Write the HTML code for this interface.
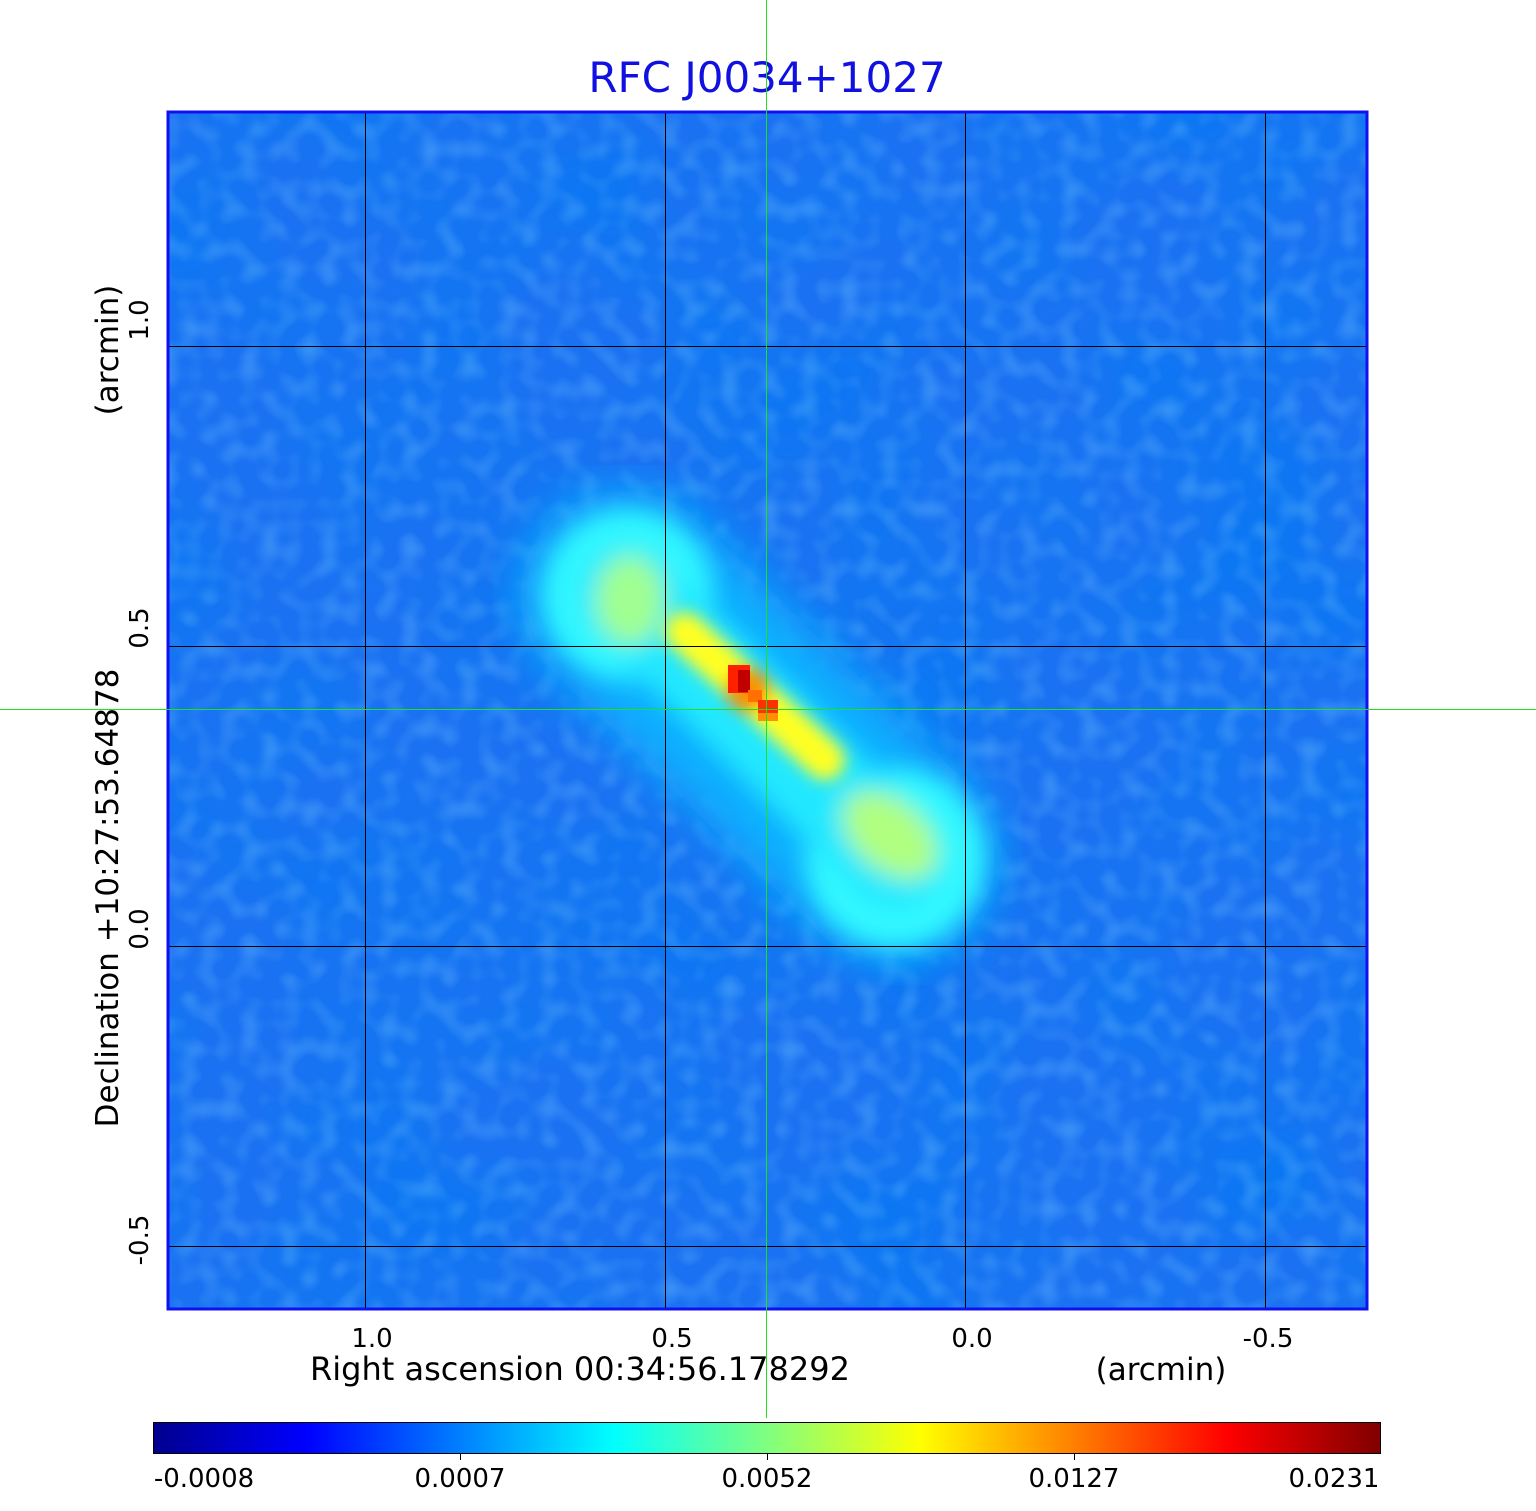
<!DOCTYPE html>
<html><head><style>
html,body{margin:0;padding:0;background:#fff;}
svg{display:block;font-family:"DejaVu Sans","Liberation Sans",sans-serif;}
</style></head><body>
<svg width="1536" height="1511" viewBox="0 0 1536 1511" xmlns="http://www.w3.org/2000/svg">
<defs>
<filter id="b1" x="-50%" y="-50%" width="200%" height="200%"><feGaussianBlur stdDeviation="22"/></filter>
<filter id="b2" x="-50%" y="-50%" width="200%" height="200%"><feGaussianBlur stdDeviation="12"/></filter>
<filter id="b3" x="-50%" y="-50%" width="200%" height="200%"><feGaussianBlur stdDeviation="8"/></filter>
<filter id="noise" x="0" y="0" width="100%" height="100%">
<feTurbulence type="fractalNoise" baseFrequency="0.006" numOctaves="2" seed="7"/>
<feColorMatrix type="matrix" values="0 0 0 0 0.0  0 0 0 0 0.2  0 0 0 0 0.9  1.4 0 0 0 -0.55"/>
</filter>
<filter id="noise2" x="0" y="0" width="100%" height="100%">
<feTurbulence type="fractalNoise" baseFrequency="0.05" numOctaves="1" seed="3"/>
<feColorMatrix type="matrix" values="0 0 0 0 0.2  0 0 0 0 0.6  0 0 0 0 1  0.8 0 0 0 -0.35"/>
</filter>
<clipPath id="pc"><rect x="167" y="111" width="1201" height="1199"/></clipPath>
<linearGradient id="jet" x1="0" x2="1" y1="0" y2="0">
<stop offset="0" stop-color="#00008f"/>
<stop offset="0.125" stop-color="#0000ff"/>
<stop offset="0.375" stop-color="#00ffff"/>
<stop offset="0.625" stop-color="#ffff00"/>
<stop offset="0.875" stop-color="#ff0000"/>
<stop offset="1" stop-color="#800000"/>
</linearGradient>
</defs>
<text x="767" y="92" font-size="42" fill="#1010e0" text-anchor="middle">RFC J0034+1027</text>
<g clip-path="url(#pc)">
<rect x="167" y="111" width="1201" height="1199" fill="#1a72f2"/>
<rect x="167" y="111" width="1201" height="1199" filter="url(#noise)"/>
<rect x="167" y="111" width="1201" height="1199" filter="url(#noise2)"/>
<g filter="url(#b1)">
<line x1="625" y1="595" x2="890" y2="855" stroke="#10b0ff" stroke-width="210" stroke-linecap="round"/>
</g>
<g filter="url(#b2)">
<circle cx="628" cy="595" r="85" fill="#30f8ff"/>
<circle cx="895" cy="858" r="90" fill="#30f8ff"/>
<line x1="628" y1="595" x2="895" y2="858" stroke="#20e8ff" stroke-width="100" stroke-linecap="round"/>
<ellipse cx="630" cy="600" rx="35" ry="45" fill="#a0ff90"/>
<ellipse cx="890" cy="835" rx="55" ry="35" fill="#b0ff80" transform="rotate(40 890 835)"/>
</g>
<g filter="url(#b3)">
<line x1="685" y1="632" x2="825" y2="760" stroke="#ffff20" stroke-width="40" stroke-linecap="round"/>
<circle cx="748" cy="690" r="22" fill="#ff9000"/>
</g>
<rect x="728" y="665" width="22" height="28" fill="#ff2000"/>
<rect x="738" y="670" width="12" height="22" fill="#c00000"/>
<rect x="748" y="690" width="14" height="12" fill="#ff7000"/>
<rect x="758" y="700" width="20" height="20" fill="#ff3000"/>
<rect x="758" y="713" width="20" height="8" fill="#ff9000"/>
<g stroke="#000" stroke-width="1">
<line x1="365.5" y1="111" x2="365.5" y2="1310"/>
<line x1="665.5" y1="111" x2="665.5" y2="1310"/>
<line x1="965.5" y1="111" x2="965.5" y2="1310"/>
<line x1="1265.5" y1="111" x2="1265.5" y2="1310"/>
<line x1="167" y1="346.5" x2="1368" y2="346.5"/>
<line x1="167" y1="646.5" x2="1368" y2="646.5"/>
<line x1="167" y1="946.5" x2="1368" y2="946.5"/>
<line x1="167" y1="1246.5" x2="1368" y2="1246.5"/>
</g>
</g>
<rect x="168" y="112" width="1199" height="1197" fill="none" stroke="#1010f0" stroke-width="3"/>
<g font-size="26" fill="#000" text-anchor="middle">
<text x="372" y="1347">1.0</text>
<text x="672" y="1347">0.5</text>
<text x="972" y="1347">0.0</text>
<text x="1268" y="1347">-0.5</text>
<text x="580" y="1380" font-size="32">Right ascension  00:34:56.178292</text>
<text x="1161" y="1380" font-size="31">(arcmin)</text>
<text transform="translate(148,320) rotate(-90)">1.0</text>
<text transform="translate(148,628) rotate(-90)">0.5</text>
<text transform="translate(148,929) rotate(-90)">0.0</text>
<text transform="translate(148,1240) rotate(-90)">-0.5</text>
<text transform="translate(118,898) rotate(-90)" font-size="31">Declination  +10:27:53.64878</text>
<text transform="translate(118,350) rotate(-90)" font-size="31">(arcmin)</text>
</g>
<rect x="153.5" y="1422.5" width="1227" height="31" fill="url(#jet)" stroke="#000" stroke-width="1"/>
<g stroke="#000" stroke-width="1">
<line x1="460.5" y1="1454" x2="460.5" y2="1460"/>
<line x1="767.5" y1="1454" x2="767.5" y2="1460"/>
<line x1="1074.5" y1="1454" x2="1074.5" y2="1460"/>
</g>
<g font-size="26" fill="#000" text-anchor="middle">
<text x="204" y="1487">-0.0008</text>
<text x="460" y="1487">0.0007</text>
<text x="767" y="1487">0.0052</text>
<text x="1074" y="1487">0.0127</text>
<text x="1334" y="1487">0.0231</text>
</g>
<line x1="766.5" y1="0" x2="766.5" y2="1418" stroke="#20e020" stroke-width="1"/>
<line x1="0" y1="709.5" x2="1536" y2="709.5" stroke="#20e020" stroke-width="1"/>
</svg>
</body></html>
